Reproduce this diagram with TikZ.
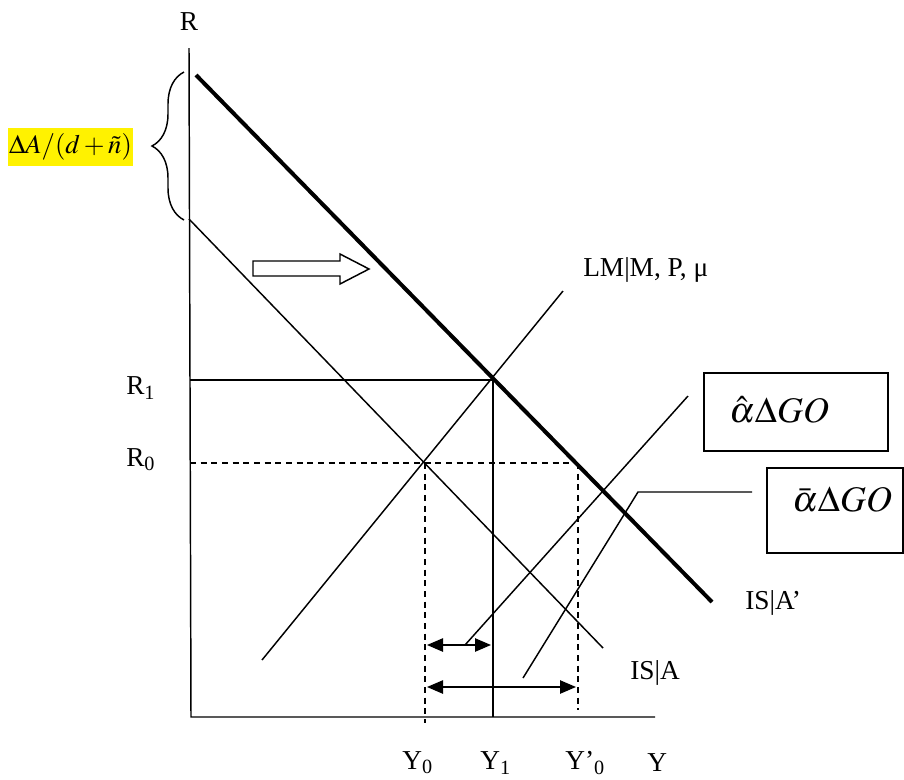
\documentclass[tikz,border=0pt]{standalone}
\usepackage{mathptmx}
\usepackage{fontspec}
\setmainfont{Liberation Serif}
\usetikzlibrary{arrows.meta,decorations.pathreplacing}
\tikzset{
  thinline/.style={line width=1.1pt},
  thickline/.style={line width=3pt},
  dashline/.style={line width=1.1pt, dash pattern=on 4.5pt off 3.5pt},
  lbl/.style={inner sep=0pt, font=\fontsize{20.5}{24}\selectfont},
  boxlbl/.style={inner sep=0pt, font=\fontsize{27}{31}\selectfont},
  dbl/.style={line width=1.1pt, {Triangle[length=12pt,width=10pt]}-{Triangle[length=12pt,width=10pt]}}
}
\begin{document}
\begin{tikzpicture}[x=0.75pt,y=-0.75pt]
\useasboundingbox (0,0) rectangle (904,779);
% named points
\coordinate (ytop) at (189,48);
\coordinate (orig) at (191,717);
\coordinate (xend) at (655,717);
\coordinate (isp1) at (196,75);
\coordinate (isp2) at (712,602);
\coordinate (is1) at (189,219);
\coordinate (is2) at (603,648);
\coordinate (lm1) at (262,660);
\coordinate (lm2) at (563,291);
\coordinate (r1a) at (190,380);
\coordinate (e1) at (493,380);
\coordinate (y1b) at (493,717);
\coordinate (r0a) at (190,463);
\coordinate (e0) at (425,463);
\coordinate (r0e) at (578,463);
\coordinate (y0b) at (425,723);
\coordinate (y0pb) at (578,710);
\coordinate (sa1) at (427,645);
\coordinate (sa2) at (491,645);
\coordinate (la1) at (427,687);
\coordinate (la2) at (576,687);
\coordinate (p1a) at (465,645);
\coordinate (p1b) at (688,396);
\coordinate (p2a) at (523,678);
\coordinate (p2b) at (638,492);
\coordinate (p2c) at (752,492);
\coordinate (br1) at (184,220);
\coordinate (br2) at (184,72);

% axes
\draw[thinline] (ytop) -- (orig) -- (xend);
% IS|A' thick
\draw[thickline] (isp1) -- (isp2);
% IS|A thin
\draw[thinline] (is1) -- (is2);
% LM
\draw[thinline] (lm1) -- (lm2);
% R1 and Y1
\draw[thinline] (r1a) -- (e1) -- (y1b);
% R0 dashed
\draw[dashline] (r0a) -- (r0e);
\draw[dashline] (e0) -- (y0b);
\draw[dashline] (r0e) -- (y0pb);
% double arrows
\draw[dbl] (sa1) -- (sa2);
\draw[dbl] (la1) -- (la2);
% pointers
\draw[thinline] (p1a) -- (p1b);
\draw[thinline] (p2a) -- (p2b) -- (p2c);
% hollow arrow
\draw[line width=1.1pt] (253,261) -- (340,261) -- (340,254) -- (369,269) -- (340,284) -- (340,276) -- (253,276) -- cycle;
% brace
\draw[line width=1.1pt, decorate, decoration={brace, amplitude=24pt}] (br1) -- (br2);

% boxes
\draw[line width=1.1pt] (704,373) rectangle (888,451);
\node[boxlbl, anchor=west] (b1) at (729,410) {$\hat{\alpha}\Delta GO$};
\draw[line width=1.1pt] (767,468) rectangle (903,553);
\node[boxlbl, anchor=west] (b2) at (792,500) {$\bar{\alpha}\Delta GO$};

% yellow label
\node[fill=yellow, inner sep=0pt, minimum width=94pt, minimum height=28pt, font=\fontsize{20}{24}\selectfont] (da) at (70.5,147) {$\Delta A/(d+\tilde{n})$};

% labels
\node[lbl] (lR) at (189,22) {R};
\node[lbl, anchor=west] (lR1) at (126,388) {R\textsubscript{1}};
\node[lbl, anchor=west] (lR0) at (126,460) {R\textsubscript{0}};
\node[lbl, anchor=west] (lY0) at (402,763) {Y\textsubscript{0}};
\node[lbl, anchor=west] (lY1) at (480,763) {Y\textsubscript{1}};
\node[lbl, anchor=west] (lY0p) at (565,763) {Y’\textsubscript{0}};
\node[lbl, anchor=west] (lY) at (647,763) {Y};
\node[lbl, anchor=west] (lISA) at (630,673) {IS|A};
\node[lbl, anchor=west] (lISAp) at (745,603) {IS|A’};
\node[lbl, anchor=west] (lLM) at (583,270) {LM|M, P, μ};
\end{tikzpicture}
\end{document}
